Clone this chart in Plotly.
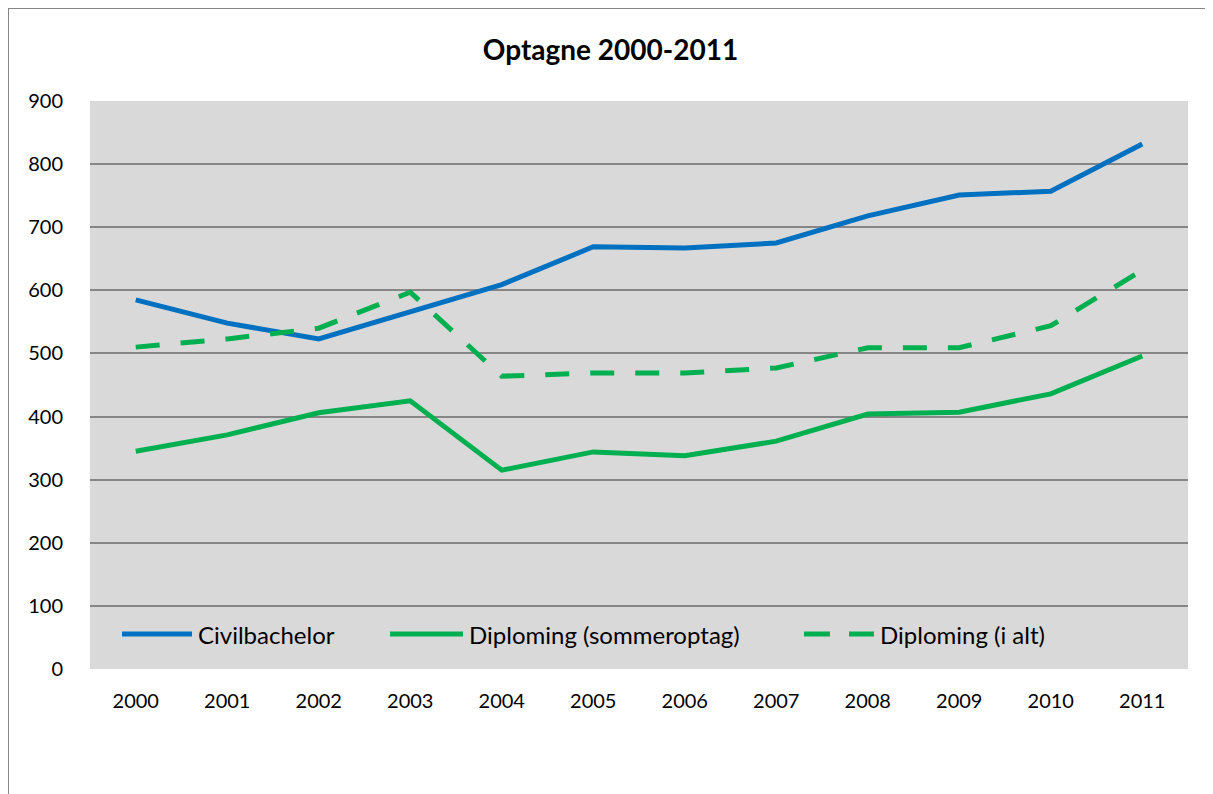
import plotly.graph_objects as go

years = [str(y) for y in range(2000, 2012)]
civilbachelor = [585, 548, 523, 567, 609, 669, 667, 675, 718, 751, 757, 832]
diplom_sommer = [345, 371, 406, 425, 315, 344, 338, 361, 404, 407, 436, 496]
diplom_ialt = [510, 523, 540, 597, 464, 469, 469, 477, 509, 509, 544, 632]
y_ticks = list(range(0, 1000, 100))

BLUE = "#0070C0"
GREEN = "#00B050"
DASH = "24px,21px"
FONT = "Lato, 'Open Sans', sans-serif"

series = [
    ("Civilbachelor", civilbachelor, BLUE, "solid"),
    ("Diploming (sommeroptag)", diplom_sommer, GREEN, "solid"),
    ("Diploming (i alt)", diplom_ialt, GREEN, DASH),
]

fig = go.Figure()
for name, vals, color, dash in series:
    fig.add_trace(go.Scatter(x=years, y=vals, name=name, mode="lines",
                             line=dict(color=color, width=5, dash=dash)))

# plot area is 1098 x 568 px; legend drawn by hand to get Excel-like spacing
def px(x):
    return (x - 90) / 1098

leg_y = (669 - 634) / 568
leg_items = [(122, 192), (390, 463), (804, 874)]
shapes = [dict(type="rect", xref="paper", yref="paper",
               x0=px(8), x1=1.3, y0=-0.4, y1=(669 - 8) / 568,
               line=dict(color="#868686", width=2), fillcolor="rgba(0,0,0,0)",
               layer="below")]
annotations = []
for (x0, x1), (name, _, color, dash) in zip(leg_items, series):
    shapes.append(dict(type="line", xref="paper", yref="paper",
                       x0=px(x0), x1=px(x1), y0=leg_y, y1=leg_y,
                       line=dict(color=color, width=5,
                                 dash="26px,19px" if dash != "solid" else "solid")))
    annotations.append(dict(text=name, xref="paper", yref="paper",
                            x=px(x1 + 4), y=leg_y, xanchor="left", yanchor="middle",
                            showarrow=False, font=dict(size=24, family=FONT)))

fig.update_layout(
    width=1205, height=786,
    margin=dict(l=82, r=25, t=93, b=125),
    paper_bgcolor="white",
    plot_bgcolor="#D9D9D9",
    font=dict(family=FONT, size=20, color="black"),
    title=dict(text="<b>Optagne 2000-2011</b>", x=0.5, xanchor="center",
               y=1 - 42 / 786, yanchor="middle", font=dict(size=28, family=FONT)),
    showlegend=False,
    xaxis=dict(type="category", showgrid=False, showline=False, zeroline=False,
               ticks="", tickfont=dict(size=20), range=[-0.5, 11.5],
               ticklabelstandoff=18),
    yaxis=dict(range=[0, 900], tickvals=y_ticks, showgrid=True, gridcolor="#868686",
               gridwidth=2, zeroline=False, showline=False, ticks="",
               ticklabelstandoff=26, tickfont=dict(size=20)),
    shapes=shapes,
    annotations=annotations,
)

fig.write_html("out.html")
